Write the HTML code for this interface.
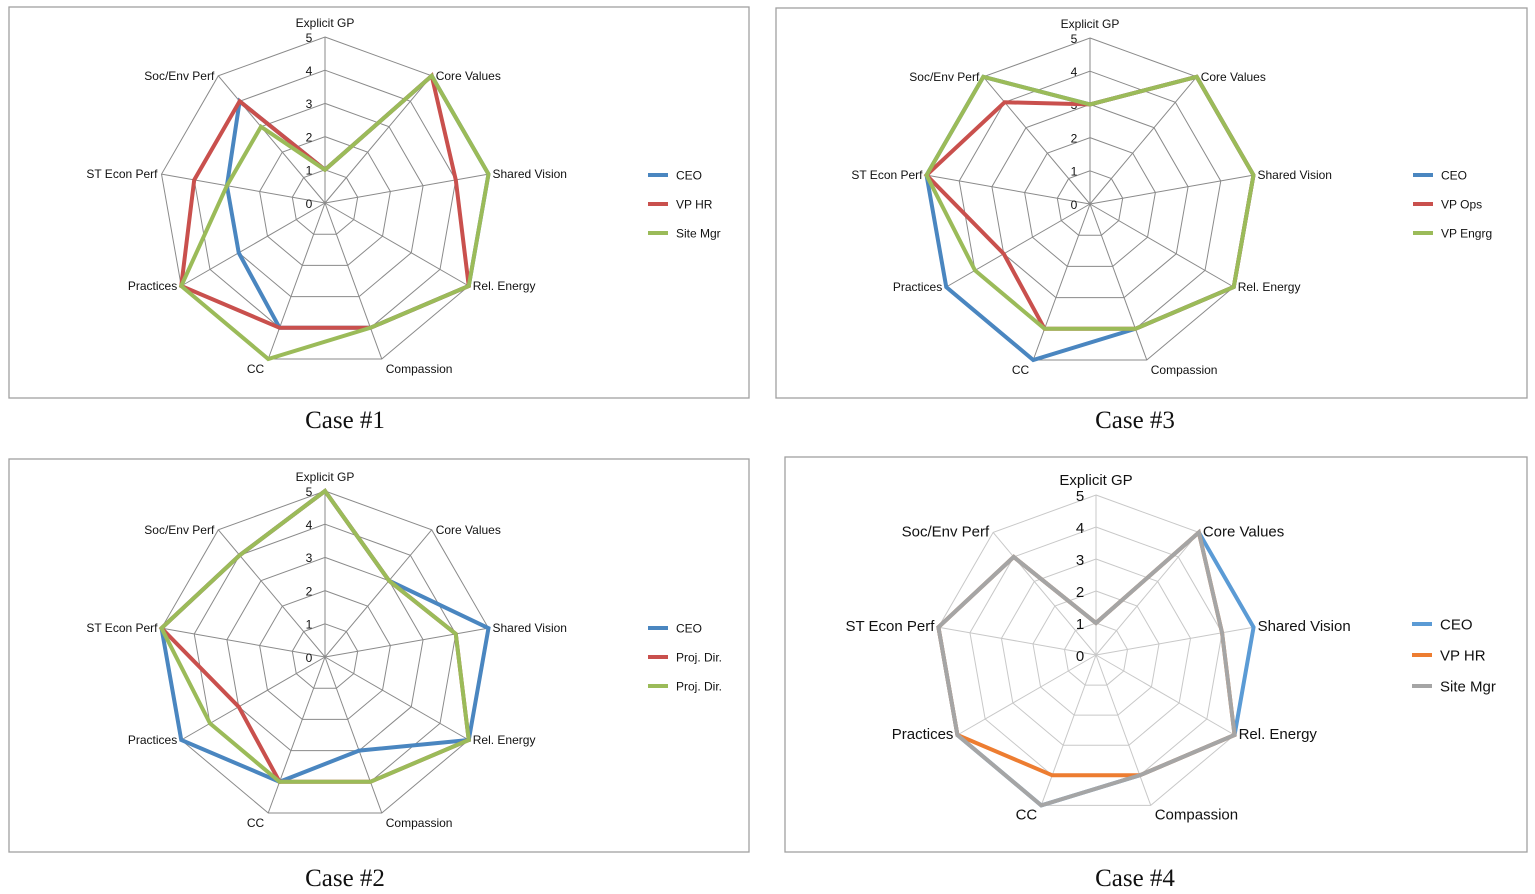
<!DOCTYPE html>
<html><head><meta charset="utf-8"><style>
body{margin:0;background:#fff;width:1535px;height:894px;overflow:hidden;font-family:"Liberation Sans",sans-serif;}
svg{position:absolute;left:0;top:0}
</style></head><body>
<svg id="s" width="1535" height="894" xmlns="http://www.w3.org/2000/svg"></svg>
<script>
const axes=["Explicit GP","Core Values","Shared Vision","Rel. Energy","Compassion","CC","Practices","ST Econ Perf","Soc/Env Perf"];
const ticks=[0,1,2,3,4,5];
const c1Names=["CEO","VP HR","Site Mgr"];
const c1CEO=[1,5,5,5,4,4,3,3,4];
const c1VPHR=[1,5,4,5,4,4,5,4,4];
const c1Site=[1,5,5,5,4,5,5,3,3];
const c3Names=["CEO","VP Ops","VP Engrg"];
const c3CEO=[3,5,5,5,4,5,5,5,5];
const c3VPOps=[3,5,5,5,4,4,3,5,4];
const c3VPEng=[3,5,5,5,4,4,4,5,5];
const c2Names=["CEO","Proj. Dir.","Proj. Dir."];
const c2CEO=[5,3,5,5,3,4,5,5,4];
const c2PD1=[5,3,4,5,4,4,3,5,4];
const c2PD2=[5,3,4,5,4,4,4,5,4];
const c4Names=["CEO","VP HR","Site Mgr"];
const c4CEO=[1,5,5,5,4,5,5,5,4];
const c4VPHR=[1,5,4,5,4,4,5,5,4];
const c4Site=[1,5,4,5,4,5,5,5,4];

const NS="http://www.w3.org/2000/svg";
const svg=document.getElementById('s');
function mk(t,a,p){const e=document.createElementNS(NS,t);for(const k in a)e.setAttribute(k,a[k]);(p||svg).appendChild(e);return e;}
function chart(o){
  const g=mk('g',{});
  
  
  const b=mk('rect',{x:o.bx,y:o.by,width:o.bw,height:o.bh,fill:'#fff',stroke:'#a0a0a0','stroke-width':1.3},g);
  
  
  const ang=i=>i*40*Math.PI/180;
  const pt=(i,v)=>[o.cx+Math.sin(ang(i))*v/5*o.r,o.cy-Math.cos(ang(i))*v/5*o.r];
  for(const t of ticks){ if(t===0)continue;
    const p=mk('polygon',{points:axes.map((a,i)=>pt(i,t).join(',')).join(' '),fill:'none',stroke:o.grid,'stroke-width':1},g);
    
    
  }
  axes.forEach((a,i)=>{
    const e=pt(i,5);
    const l=mk('line',{x1:o.cx,y1:o.cy,x2:e[0],y2:e[1],stroke:o.grid,'stroke-width':1},g);
    
    
    const lp=pt(i,5);const s=Math.sin(ang(i));
    let anchor=s>0.2?'start':(s<-0.2?'end':'middle');
    let dx=s>0.2?4:(s<-0.2?-4:0);
    let dy=Math.cos(ang(i))>0.9?-10:(Math.cos(ang(i))<-0.9?14:4);
    if(i===4||i===5)dy=14;
    const tx=mk('text',{x:lp[0]+dx,y:lp[1]+dy,'text-anchor':anchor,'font-size':o.fs,fill:'#111'},g);
    tx.textContent=a;
    
    
  });
  ticks.forEach(t=>{
    const p=pt(0,t);
    const tx=mk('text',{x:p[0]-16,y:p[1]+o.fs*0.4,'text-anchor':'middle','font-size':o.fs,fill:'#111'},g);
    tx.textContent=t;
    
    
  });
  o.series.forEach((s,k)=>{
    const p=mk('polygon',{points:s.map((v,i)=>pt(i,v).join(',')).join(' '),fill:'none',stroke:o.colors[k],'stroke-width':4,'stroke-linejoin':'miter'},g);
    
    
    const ly=o.ly+k*o.lstep;
    const ll=mk('line',{x1:o.lx,y1:ly,x2:o.lx+20,y2:ly,stroke:o.colors[k],'stroke-width':4},g);
    
    
    const lt=mk('text',{x:o.lx+28,y:ly+o.fs*0.38,'font-size':o.fs,fill:'#111'},g);
    lt.textContent=o.names[k];
    
    
  });
  const cap=mk('text',{x:o.capx,y:o.capy,'text-anchor':'middle','font-size':25,'font-family':'Liberation Serif, serif',fill:'#111'},g);
  cap.textContent=o.cap;
  
  
}
const c3=['#4a86c0','#c9504d','#9bbb59'];
chart({id:'case-1-chart',bx:9,by:7,bw:740,bh:391,cx:325,cy:203,r:166,grid:'#8a8a8a',fs:12,series:[c1CEO,c1VPHR,c1Site],names:c1Names,colors:c3,lx:648,ly:175,lstep:29,cap:'Case #1',capx:345,capy:428});
chart({id:'case-3-chart',bx:776,by:8,bw:751,bh:390,cx:1090,cy:204,r:166,grid:'#8a8a8a',fs:12,series:[c3CEO,c3VPOps,c3VPEng],names:c3Names,colors:c3,lx:1413,ly:175,lstep:29,cap:'Case #3',capx:1135,capy:428});
chart({id:'case-2-chart',bx:9,by:459,bw:740,bh:393,cx:325,cy:657,r:166,grid:'#8a8a8a',fs:12,series:[c2CEO,c2PD1,c2PD2],names:c2Names,colors:c3,lx:648,ly:628,lstep:29,cap:'Case #2',capx:345,capy:886});
chart({id:'case-4-chart',bx:785,by:457,bw:742,bh:395,cx:1096,cy:655,r:160,grid:'#c8c8c8',fs:15,series:[c4CEO,c4VPHR,c4Site],names:c4Names,colors:['#5b9bd5','#ed7d31','#a5a5a5'],lx:1412,ly:624,lstep:31,cap:'Case #4',capx:1135,capy:886});
</script>
</body></html>
